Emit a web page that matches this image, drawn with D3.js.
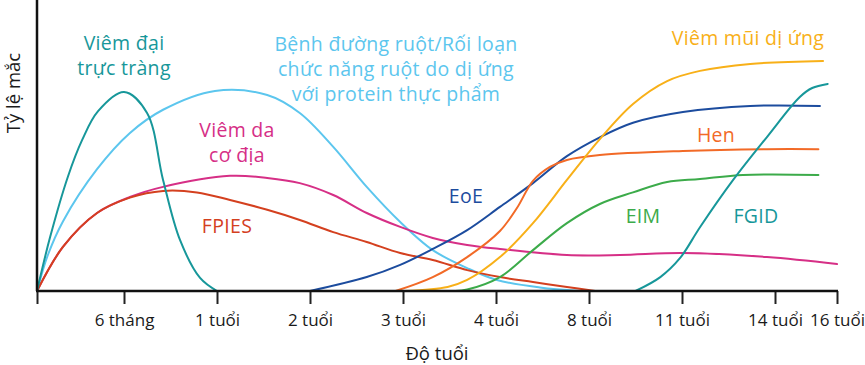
<!DOCTYPE html>
<html><head><meta charset="utf-8">
<script src="https://cdn.jsdelivr.net/npm/d3@7"></script>
<style>
html,body{margin:0;padding:0;background:#fff;}
svg text{font-family:"Open Sans", Lato, sans-serif;}
</style></head>
<body><svg id="c" width="865" height="365"></svg>
<script>
// ---- data ----
const tickAges = [0, 0.5, 1, 2, 3, 4, 8, 11, 14, 16];
const tickLabels = ["", "6 tháng", "1 tuổi", "2 tuổi", "3 tuổi", "4 tuổi", "8 tuổi", "11 tuổi", "14 tuổi", "16 tuổi"];

const colitisAge = [0, 0.075, 0.178, 0.259, 0.351, 0.5, 0.624, 0.71, 0.801, 0.909, 1.0];
const colitisVal = [0, 18.5, 39.5, 52, 62, 68.6, 61.4, 38.3, 17.6, 4.5, 0];

const fpiapAge = [0, 0.063, 0.149, 0.345, 0.532, 0.71, 0.989, 1.54, 1.89, 2.25, 2.61, 2.97, 3.32, 3.69, 4.04, 5.89, 7.6];
const fpiapVal = [0, 12.5, 24, 42, 54.5, 62.5, 69, 67.6, 61.4, 49.7, 35.9, 23.8, 14.1, 7.9, 3.8, 1.2, 0];

const adAge = [0, 0.149, 0.345, 0.532, 0.71, 1.14, 1.54, 1.89, 2.25, 2.61, 2.97, 3.32, 3.69, 4.17, 7.05, 9.0, 11.03, 13.74, 16];
const adVal = [0, 15.2, 26.9, 32.4, 35.9, 39.7, 39, 37.2, 33.1, 26.9, 22.1, 18.3, 15.9, 14.5, 12.4, 12.4, 13.1, 11.7, 9.3];

const fpiesAge = [0, 0.149, 0.345, 0.532, 0.71, 0.892, 1.14, 1.54, 1.89, 2.25, 2.61, 2.97, 3.32, 3.69, 4.17, 5.59, 7.05, 8.2];
const fpiesVal = [0, 15.2, 26.9, 32.2, 34.5, 34, 31.4, 28, 24.5, 20.3, 16.9, 13.1, 10.7, 7.2, 4.8, 3.1, 1.4, 0];

const eoeAge = [2.0, 2.61, 2.97, 3.32, 3.69, 4.17, 5.59, 7.05, 8.35, 9.42, 11.03, 13.2, 15.45];
const eoeVal = [0, 4.8, 9, 14.5, 21, 29, 37.2, 46.5, 53, 58, 61.7, 63.8, 63.8];

const asthmaAge = [2.92, 3.32, 3.69, 4.17, 4.9, 5.59, 6.32, 7.05, 8.35, 11.03, 13.74, 15.4];
const asthmaVal = [0, 4.8, 11.7, 20.7, 28.6, 38, 42.8, 45.2, 46.9, 48.3, 48.9, 48.9];

const rhinitisAge = [3.02, 3.48, 3.69, 4.17, 5.59, 7.05, 8.35, 9.42, 10.52, 11.58, 13.2, 15.55];
const rhinitisVal = [0, 1.4, 3.8, 11.7, 23.4, 38.3, 52.4, 64.5, 72.4, 75.9, 78.3, 79.3];

const eimAge = [3.56, 3.69, 4.17, 5.59, 7.05, 8.35, 9.42, 10.52, 11.58, 12.97, 15.4];
const eimVal = [0, 0.5, 4.8, 14.1, 23.4, 30, 34, 37.6, 38.6, 40, 40];

const fgidAge = [9.5, 10.3, 10.94, 11.58, 12.65, 13.74, 14.8, 15.2, 15.7];
const fgidVal = [0, 4.8, 11.4, 22, 38.3, 53.1, 66.9, 70, 71.4];

// ---- layout ----
const m = {left: 37, top: 1, bottom: 291};
const xRange = [37, 124, 217, 310, 403, 496, 589, 682, 775, 837];
const x = d3.scaleLinear().domain(tickAges).range(xRange);
const y = d3.scaleLinear().domain([0, 100]).range([m.bottom, m.top]);

const svg = d3.select("#c");
svg.append("defs").append("clipPath").attr("id", "plot")
  .append("rect").attr("x", m.left).attr("y", 0).attr("width", 830).attr("height", m.bottom);

const series = [
  {a: fpiapAge, v: fpiapVal, c: "#5cc6ee"},
  {a: adAge, v: adVal, c: "#d62f86"},
  {a: fpiesAge, v: fpiesVal, c: "#d4401f"},
  {a: colitisAge, v: colitisVal, c: "#17979a"},
  {a: eoeAge, v: eoeVal, c: "#1c4c9e"},
  {a: asthmaAge, v: asthmaVal, c: "#f26a27"},
  {a: rhinitisAge, v: rhinitisVal, c: "#f8b018"},
  {a: eimAge, v: eimVal, c: "#3cab4a"},
  {a: fgidAge, v: fgidVal, c: "#17979a"}
];

const line = d3.line().x(d => x(d[0])).y(d => y(d[1])).curve(d3.curveCatmullRom.alpha(0.5));
const gl = svg.append("g").attr("clip-path", "url(#plot)");
series.forEach(s => {
  gl.append("path")
    .attr("d", line(s.a.map((a, i) => [a, s.v[i]])))
    .attr("fill", "none").attr("stroke", s.c).attr("stroke-width", 2)
    .attr("stroke-linejoin", "round").attr("stroke-linecap", "round");
});

// axes
const xAxis = d3.axisBottom(x).tickValues(tickAges).tickFormat((d, i) => tickLabels[i]).tickSize(13).tickPadding(10);
const gx = svg.append("g").attr("transform", `translate(0,${m.bottom})`).call(xAxis);
gx.select(".domain").remove();
gx.append("line").attr("x1", x(0) - 1).attr("x2", x(16) + 1).attr("y1", 0).attr("y2", 0)
  .attr("stroke", "#111").attr("stroke-width", 2.5);
gx.selectAll(".tick line").attr("stroke", "#222").attr("stroke-width", 2);
gx.selectAll(".tick text").attr("font-size", 17).attr("font-weight", 500).attr("fill", "#1a1a1a")
  .style("font-family", "'Open Sans', Lato, sans-serif");

svg.append("line").attr("x1", x(0)).attr("x2", x(0)).attr("y1", 0).attr("y2", m.bottom)
  .attr("stroke", "#111").attr("stroke-width", 2.5);

svg.append("text").attr("x", 437).attr("y", 360).attr("text-anchor", "middle")
  .attr("font-size", 18.5).attr("font-weight", 500).attr("fill", "#1a1a1a").text("Độ tuổi");
svg.append("text").attr("transform", "translate(20,93) rotate(-90)").attr("text-anchor", "middle")
  .attr("font-size", 18.5).attr("font-weight", 500).attr("fill", "#1a1a1a").text("Tỷ lệ mắc");

// series labels
const labels = [
  {lines: ["Viêm đại", "trực tràng"], x: 124, y: 50, c: "#17979a"},
  {lines: ["Bệnh đường ruột/Rối loạn", "chức năng ruột do dị ứng", "với protein thực phẩm"], x: 396, y: 51, c: "#5cc6ee"},
  {lines: ["Viêm da", "cơ địa"], x: 237, y: 137, c: "#d62f86"},
  {lines: ["FPIES"], x: 227, y: 233, c: "#d4401f"},
  {lines: ["EoE"], x: 466, y: 203, c: "#1c4c9e"},
  {lines: ["Hen"], x: 716, y: 142, c: "#f26a27"},
  {lines: ["Viêm mũi dị ứng"], x: 748, y: 45, c: "#f8b018"},
  {lines: ["EIM"], x: 643, y: 223, c: "#3cab4a"},
  {lines: ["FGID"], x: 756, y: 223, c: "#17979a"}
];
labels.forEach(l => {
  l.lines.forEach((s, i) => svg.append("text").attr("text-anchor", "middle").attr("fill", l.c)
    .attr("font-size", 19.5).attr("font-weight", 500).attr("letter-spacing", 0.3)
    .attr("x", l.x).attr("y", l.y + i * 25).text(s));
});
</script></body></html>
